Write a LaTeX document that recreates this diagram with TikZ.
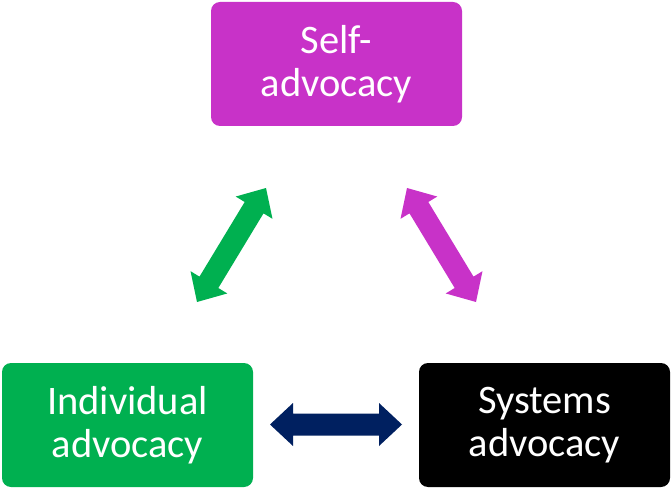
\documentclass[tikz,border=0pt]{standalone}
\usepackage{fontspec}
\setmainfont{Carlito}
\usetikzlibrary{calc}
\definecolor{cmag}{HTML}{C832C8}
\definecolor{cgreen}{HTML}{00B050}
\definecolor{cnavy}{HTML}{002060}
\newcommand\blockarrow[3]{%
 \fill[#3] (#1) -- ($(#1)!23pt!(#2)!21.5pt!90:(#2)$) -- ($(#1)!23pt!(#2)!11pt!90:(#2)$)
  -- ($(#2)!23pt!(#1)!11pt!-90:(#1)$) -- ($(#2)!23pt!(#1)!21.5pt!-90:(#1)$) -- (#2)
  -- ($(#2)!23pt!(#1)!21.5pt!90:(#1)$) -- ($(#2)!23pt!(#1)!11pt!90:(#1)$)
  -- ($(#1)!23pt!(#2)!11pt!-90:(#2)$) -- ($(#1)!23pt!(#2)!21.5pt!-90:(#2)$) -- cycle;}
\begin{document}
\begin{tikzpicture}[x=1pt,y=-1pt,
  box/.style={rounded corners=9pt, text=white, align=center, inner sep=0pt,
    minimum width=251pt, minimum height=124pt,
    font=\fontsize{40.5}{43}\selectfont}]
\useasboundingbox (0,0) rectangle (672,489);
\node[box, fill=cmag] (self) at (336.5,64) {Self-\\advocacy};
\node[box, fill=cgreen] (indiv) at (127.5,425) {Individual\\advocacy};
\node[box, fill=black] (sys) at (544.5,425) {Systems\\advocacy};
\coordinate (g1) at (197,302);
\coordinate (g2) at (266,188);
\coordinate (m1) at (407,188);
\coordinate (m2) at (476,302);
\coordinate (n1) at (270,424.5);
\coordinate (n2) at (402,424.5);
\blockarrow{g1}{g2}{cgreen}
\blockarrow{m1}{m2}{cmag}
\blockarrow{n1}{n2}{cnavy}
\end{tikzpicture}
\end{document}
